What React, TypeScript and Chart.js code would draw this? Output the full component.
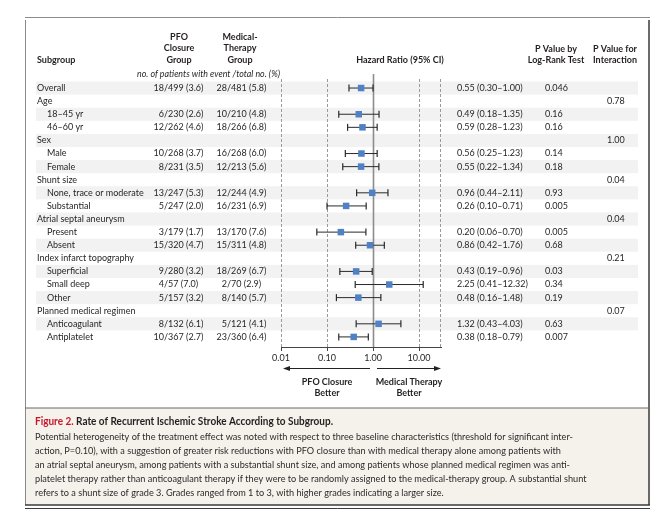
import React, { useEffect, useRef } from "react";
import { Chart, registerables } from "chart.js";
Chart.register(...registerables);

const subgroups = [
  "Overall", "Age", "18–45 yr", "46–60 yr", "Sex", "Male", "Female", "Shunt size",
  "None, trace or moderate", "Substantial", "Atrial septal aneurysm", "Present", "Absent",
  "Index infarct topography", "Superficial", "Small deep", "Other", "Planned medical regimen",
  "Anticoagulant", "Antiplatelet",
];
const indented = [0, 0, 1, 1, 0, 1, 1, 0, 1, 1, 0, 1, 1, 0, 1, 1, 1, 0, 1, 1];

const pfoEvents = [18, null, 6, 12, null, 10, 8, null, 13, 5, null, 3, 15, null, 9, 4, 5, null, 8, 10];
const pfoTotal = [499, null, 230, 262, null, 268, 231, null, 247, 247, null, 179, 320, null, 280, 57, 157, null, 132, 367];
const pfoPct = [3.6, null, 2.6, 4.6, null, 3.7, 3.5, null, 5.3, 2.0, null, 1.7, 4.7, null, 3.2, 7.0, 3.2, null, 6.1, 2.7];

const medEvents = [28, null, 10, 18, null, 16, 12, null, 12, 16, null, 13, 15, null, 18, 2, 8, null, 5, 23];
const medTotal = [481, null, 210, 266, null, 268, 213, null, 244, 231, null, 170, 311, null, 269, 70, 140, null, 121, 360];
const medPct = [5.8, null, 4.8, 6.8, null, 6.0, 5.6, null, 4.9, 6.9, null, 7.6, 4.8, null, 6.7, 2.9, 5.7, null, 4.1, 6.4];

const hazardRatio = [0.55, null, 0.49, 0.59, null, 0.56, 0.55, null, 0.96, 0.26, null, 0.20, 0.86, null, 0.43, 2.25, 0.48, null, 1.32, 0.38];
const ciLow = [0.30, null, 0.18, 0.28, null, 0.25, 0.22, null, 0.44, 0.10, null, 0.06, 0.42, null, 0.19, 0.41, 0.16, null, 0.43, 0.18];
const ciHigh = [1.00, null, 1.35, 1.23, null, 1.23, 1.34, null, 2.11, 0.71, null, 0.70, 1.76, null, 0.96, 12.32, 1.48, null, 4.03, 0.79];

const pLogRank = ["0.046", "", "0.16", "0.16", "", "0.14", "0.18", "", "0.93", "0.005", "", "0.005", "0.68", "", "0.03", "0.34", "0.19", "", "0.63", "0.007"];
const pInteraction = ["", "0.78", "", "", "1.00", "", "", "0.04", "", "", "0.04", "", "", "0.21", "", "", "", "0.07", "", ""];

const xTicks = [0.01, 0.1, 1, 10];
const xMin = 0.01;
const xMax = 30;

const captionLabel = "Figure 2.";
const captionTitle = " Rate of Recurrent Ischemic Stroke According to Subgroup.";
const captionLines = [
  "Potential heterogeneity of the treatment effect was noted with respect to three baseline characteristics (threshold for significant inter-",
  "action, P=0.10), with a suggestion of greater risk reductions with PFO closure than with medical therapy alone among patients with",
  "an atrial septal aneurysm, among patients with a substantial shunt size, and among patients whose planned medical regimen was anti-",
  "platelet therapy rather than anticoagulant therapy if they were to be randomly assigned to the medical-therapy group. A substantial shunt",
  "refers to a shunt size of grade 3. Grades ranged from 1 to 3, with higher grades indicating a larger size.",
];

const FONT = "Lato, 'Open Sans', sans-serif";
const INK = "#231f20";

function drawText(ctx: CanvasRenderingContext2D, s: string, x: number, y: number, font: string, align: CanvasTextAlign = "left", color = INK, fitWidth?: number) {
  ctx.save();
  ctx.font = font;
  ctx.fillStyle = color;
  ctx.textBaseline = "middle";
  ctx.textAlign = align;
  if (fitWidth) {
    const w = ctx.measureText(s).width;
    ctx.translate(x, y);
    ctx.scale(fitWidth / w, 1);
    ctx.fillText(s, 0, 0);
  } else {
    ctx.fillText(s, x, y);
  }
  ctx.restore();
}

function line(ctx: CanvasRenderingContext2D, x1: number, y1: number, x2: number, y2: number, color: string, w = 1, dash: number[] = []) {
  ctx.save();
  ctx.strokeStyle = color;
  ctx.lineWidth = w;
  ctx.setLineDash(dash);
  ctx.beginPath();
  ctx.moveTo(x1, y1);
  ctx.lineTo(x2, y2);
  ctx.stroke();
  ctx.restore();
}

export default function App() {
  const ref = useRef<HTMLCanvasElement>(null);

  useEffect(() => {
    const canvas = ref.current;
    if (!canvas) return;
    const points: { x: number; y: number }[] = [];
    hazardRatio.forEach((v, i) => {
      if (v != null) points.push({ x: v, y: i });
    });

    const forest = {
      id: "forest",
      beforeDraw(chart: any) {
        const ctx: CanvasRenderingContext2D = chart.ctx;
        const ys = chart.scales.y;
        ctx.save();
        ctx.fillStyle = "#ffffff";
        ctx.fillRect(0, 0, chart.width, chart.height);
        // row shading
        ctx.fillStyle = "#f2f2f2";
        subgroups.forEach((_, i) => {
          if (i % 2 === 0) {
            const t = ys.getPixelForValue(i - 0.5);
            const b = ys.getPixelForValue(i + 0.5);
            ctx.fillRect(36, t, 638 - 36, b - t);
          }
        });
        // caption background
        ctx.fillStyle = "#f5f1eb";
        ctx.fillRect(25, 408, 649 - 25, 505 - 408);
        ctx.restore();
      },
      beforeDatasetsDraw(chart: any) {
        const ctx: CanvasRenderingContext2D = chart.ctx;
        const xs = chart.scales.x;
        const ys = chart.scales.y;
        const area = chart.chartArea;
        xTicks.forEach((t) => {
          const px = Math.round(xs.getPixelForValue(t)) + 0.5;
          if (t === 1) line(ctx, px, 74, px, area.bottom, "#8c8c8c", 1.6);
          else line(ctx, px, 79, px, area.bottom, "#9a9a9a", 1, [3, 2]);
        });
        const rx = Math.round(area.right) - 0.5;
        line(ctx, rx, 79, rx, area.bottom, "#9a9a9a", 1, [3, 2]);
        // error bars
        hazardRatio.forEach((v, i) => {
          if (v == null) return;
          const y = ys.getPixelForValue(i);
          const x1 = xs.getPixelForValue(ciLow[i] as number);
          const x2 = xs.getPixelForValue(ciHigh[i] as number);
          line(ctx, x1, y, x2, y, "#2a2a2a", 1);
          line(ctx, x1, y - 3.5, x1, y + 3.5, "#2a2a2a", 1.2);
          line(ctx, x2, y - 3.5, x2, y + 3.5, "#2a2a2a", 1.2);
        });
      },
      afterDraw(chart: any) {
        const ctx: CanvasRenderingContext2D = chart.ctx;
        const xs = chart.scales.x;
        const ys = chart.scales.y;
        const area = chart.chartArea;
        const f = `9px ${FONT}`;
        const fb = `bold 9px ${FONT}`;

        // headers
        drawText(ctx, "Subgroup", 37, 60, fb);
        ["PFO", "Closure", "Group"].forEach((s, k) => drawText(ctx, s, 179, 37 + k * 11.5, fb, "center"));
        ["Medical-", "Therapy", "Group"].forEach((s, k) => drawText(ctx, s, 240, 37 + k * 11.5, fb, "center"));
        drawText(ctx, "no. of patients with event /total no. (%)", 137, 74, `italic 9px ${FONT}`, "left", INK, 143);
        drawText(ctx, "Hazard Ratio (95% CI)", 400, 60, fb, "center");
        drawText(ctx, "P Value by", 556, 49, fb, "center");
        drawText(ctx, "Log-Rank Test", 556, 60, fb, "center");
        drawText(ctx, "P Value for", 615, 49, fb, "center");
        drawText(ctx, "Interaction", 615, 60, fb, "center");

        // rows
        subgroups.forEach((s, i) => {
          const y = ys.getPixelForValue(i);
          drawText(ctx, s, indented[i] ? 47 : 37, y, f);
          if (pfoEvents[i] != null) {
            drawText(ctx, String(pfoEvents[i]), 164, y, f, "right");
            drawText(ctx, `/${pfoTotal[i]} (${(pfoPct[i] as number).toFixed(1)})`, 164, y, f, "left");
          }
          if (medEvents[i] != null) {
            drawText(ctx, String(medEvents[i]), 227, y, f, "right");
            drawText(ctx, `/${medTotal[i]} (${(medPct[i] as number).toFixed(1)})`, 227, y, f, "left");
          }
          if (hazardRatio[i] != null) {
            const t = `${(hazardRatio[i] as number).toFixed(2)} (${(ciLow[i] as number).toFixed(2)}–${(ciHigh[i] as number).toFixed(2)})`;
            drawText(ctx, t, 457, y, f);
          }
          if (pLogRank[i]) drawText(ctx, pLogRank[i], 545, y, f);
          if (pInteraction[i]) drawText(ctx, pInteraction[i], 607, y, f);
        });

        // arrows
        const p1 = xs.getPixelForValue(1);
        const pl = xs.getPixelForValue(xMin);
        const ay = 368.5;
        ctx.save();
        ctx.fillStyle = "#222";
        line(ctx, p1 - 3, ay, pl + 6, ay, "#222", 1);
        ctx.beginPath();
        ctx.moveTo(pl + 2, ay);
        ctx.lineTo(pl + 9, ay - 2.5);
        ctx.lineTo(pl + 9, ay + 2.5);
        ctx.closePath();
        ctx.fill();
        line(ctx, p1 + 4, ay, area.right - 5, ay, "#222", 1);
        ctx.beginPath();
        ctx.moveTo(area.right, ay);
        ctx.lineTo(area.right - 7, ay - 2.5);
        ctx.lineTo(area.right - 7, ay + 2.5);
        ctx.closePath();
        ctx.fill();
        ctx.restore();

        const p01 = xs.getPixelForValue(0.1);
        drawText(ctx, "PFO Closure", p01, 382, fb, "center");
        drawText(ctx, "Better", p01, 393, fb, "center");
        drawText(ctx, "Medical Therapy", 409, 382, fb, "center");
        drawText(ctx, "Better", 409, 393, fb, "center");

        // frame
        line(ctx, 25, 17.5, 650, 17.5, "#8a8a8a", 1);
        line(ctx, 25.5, 20, 25.5, 505, "#8a8a8a", 1);
        line(ctx, 649, 20, 649, 505, "#3a3a3a", 1.5);
        line(ctx, 25, 408, 649, 408, "#6a6a6a", 1.2);
        line(ctx, 25, 505, 650, 505, "#3a3a3a", 1.5);
        line(ctx, 25, 508.5, 650, 508.5, "#3a3a3a", 1);

        // caption
        ctx.save();
        ctx.font = `bold 10.5px ${FONT}`;
        const wl = ctx.measureText(captionLabel).width;
        const wt = ctx.measureText(captionTitle).width;
        ctx.restore();
        const sx = 298 / (wl + wt);
        drawText(ctx, captionLabel, 35, 422, `bold 10.5px ${FONT}`, "left", "#c4172c", wl * sx);
        drawText(ctx, captionTitle, 35 + wl * sx, 422, `bold 10.5px ${FONT}`, "left", INK, wt * sx);
        ctx.save();
        ctx.font = `10px ${FONT}`;
        const w0 = ctx.measureText(captionLines[0]).width;
        ctx.restore();
        const cs = 538 / w0;
        captionLines.forEach((s, k) => {
          ctx.save();
          ctx.font = `10px ${FONT}`;
          const w = ctx.measureText(s).width;
          ctx.restore();
          drawText(ctx, s, 35, 437 + k * 14, `10px ${FONT}`, "left", "#2b2b2b", w * cs);
        });
      },
    };

    const chart = new Chart(canvas, {
      type: "scatter",
      data: {
        datasets: [
          {
            data: points,
            pointStyle: "rect",
            pointRadius: 4.6,
            pointHoverRadius: 4.6,
            backgroundColor: "#4f81c4",
            borderColor: "#4f81c4",
            borderWidth: 0,
          },
        ],
      },
      options: {
        animation: false,
        responsive: false,
        devicePixelRatio: 1,
        layout: { padding: { left: 281, right: 231, top: 79, bottom: 163 } },
        plugins: { legend: { display: false }, tooltip: { enabled: false }, title: { display: false } },
        events: [],
        scales: {
          x: {
            type: "logarithmic",
            min: xMin,
            max: xMax,
            position: "bottom",
            afterBuildTicks: (axis: any) => {
              axis.ticks = xTicks.map((v) => ({ value: v }));
            },
            afterFit: (scale: any) => {
              scale.height = 20;
            },
            ticks: {
              autoSkip: false,
              maxRotation: 0,
              padding: 2,
              color: INK,
              font: { family: FONT, size: 9 },
              callback: (v: any) => Number(v).toFixed(2),
            },
            grid: { display: true, drawOnChartArea: false, drawTicks: true, tickLength: 4, color: "#444", lineWidth: 1 },
            border: { display: true, color: "#444", width: 1 },
          },
          y: {
            type: "linear",
            min: -0.69,
            max: 19.77,
            reverse: true,
            display: false,
          },
        },
      },
      plugins: [forest],
    } as any);

    return () => chart.destroy();
  }, []);

  return (
    <div style={{ position: "fixed", left: 0, top: 0, width: 672, height: 530, background: "#fff" }}>
      <canvas ref={ref} width={672} height={530} style={{ width: 672, height: 530, display: "block" }} />
    </div>
  );
}
